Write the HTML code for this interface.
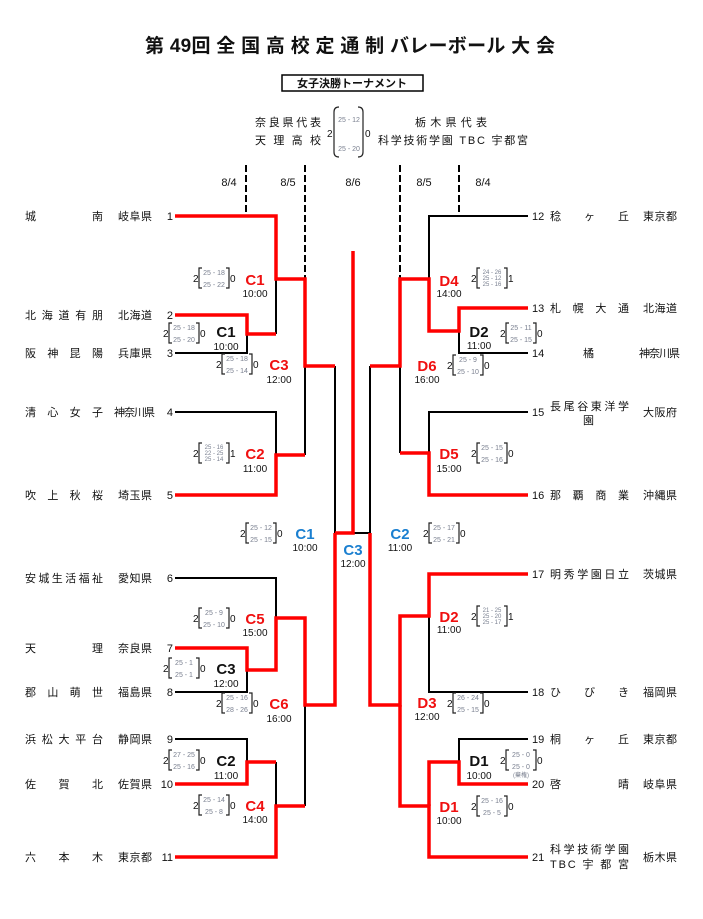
<!DOCTYPE html>
<html><head><meta charset="utf-8"><style>
html,body{margin:0;padding:0;background:#fff;}
svg{display:block;}
text{font-family:"Liberation Sans","Noto Sans CJK JP",sans-serif;fill:#111;}
.t{font-size:11px;}
.n{font-size:11px;}
.s{font-size:7px;fill:#7a8090;}
.s3{font-size:6px;fill:#7a8090;}
.d{font-size:11px;fill:#111;}
.lr{font-size:15px;font-weight:bold;fill:#f01010;}
.lb{font-size:15px;font-weight:bold;fill:#111;}
.lu{font-size:15px;font-weight:bold;fill:#1a7fd0;}
.tm{font-size:10px;fill:#111;}
.k{fill:none;stroke:#000;stroke-width:2;}
.r{fill:none;stroke:#f00;stroke-width:3.5;}
.br{fill:none;stroke:#222;stroke-width:1.2;}
.dash{stroke:#000;stroke-width:2;stroke-dasharray:7,3;}
</style></head><body>
<svg width="703" height="919" viewBox="0 0 703 919" xmlns="http://www.w3.org/2000/svg">
<!-- title -->
<text x="350" y="52" text-anchor="middle" style="font-size:19px;font-weight:bold" textLength="410" lengthAdjust="spacing">第 49回 全 国 高 校 定 通 制 バレーボール 大 会</text>
<rect x="282" y="75" width="141" height="16" fill="none" stroke="#000" stroke-width="1.5"/>
<text x="352" y="87" text-anchor="middle" style="font-size:11px;font-weight:bold">女子決勝トーナメント</text>
<!-- final -->
<text x="255" y="126" class="t" textLength="66" lengthAdjust="spacing">奈良県代表</text>
<text x="255" y="144" class="t" textLength="66" lengthAdjust="spacing">天理高校</text>
<text x="327" y="137" class="n" style="font-size:10px">2</text>
<path d="M339 107 q-5 0 -5 5 v40 q0 5 5 5" class="br"/>
<path d="M358 107 q5 0 5 5 v40 q0 5 -5 5" class="br"/>
<text x="349" y="122" text-anchor="middle" class="s">25 - 12</text>
<text x="349" y="151" text-anchor="middle" class="s">25 - 20</text>
<text x="365" y="137" class="n" style="font-size:10px">0</text>
<text x="415" y="126" class="t" textLength="72" lengthAdjust="spacing">栃木県代表</text>
<text x="378" y="144" class="t" textLength="150" lengthAdjust="spacing">科学技術学園 TBC 宇都宮</text>
<!-- dates -->
<text x="229" y="186" text-anchor="middle" class="d">8/4</text>
<text x="288" y="186" text-anchor="middle" class="d">8/5</text>
<text x="353" y="186" text-anchor="middle" class="d">8/6</text>
<text x="424" y="186" text-anchor="middle" class="d">8/5</text>
<text x="483" y="186" text-anchor="middle" class="d">8/4</text>
<line x1="246" y1="165" x2="246" y2="213" class="dash"/>
<line x1="305" y1="165" x2="305" y2="279" class="dash"/>
<line x1="400" y1="165" x2="400" y2="279" class="dash"/>
<line x1="459" y1="165" x2="459" y2="213" class="dash"/>

<!-- LEFT black lines -->
<path class="k" d="M276 279 V334 M175 353 H247 V334 M305 366 V455 M175 412 H276 V455 M335 366 V533 M175 578 H276 V618 M175 692 H247 V670 M305 705 V806 M175 739 H247 V761 M276 762 V806"/>
<!-- LEFT red -->
<path class="r" d="M175 216 H276 V279 H305 V366 H335"/>
<path class="r" d="M175 315 H247 V334 H276"/>
<path class="r" d="M175 495 H276 V455 H305"/>
<path class="r" d="M335 533 V705 H305 V618 H276 V670 H247 V648 H175"/>
<path class="r" d="M175 784 H247 V762 H276"/>
<path class="r" d="M175 857 H276 V806 H305"/>
<!-- center -->
<path class="k" d="M353 533 H370 V366"/>
<path class="r" d="M353 251 V533 H335"/>
<!-- RIGHT black -->
<path class="k" d="M528 216 H429 V279 M459 331 V353 H528 M400 366 V453 M528 412 H429 V453 M400 616 V705 M429 616 V692 H528 M528 739 H459 V762 M429 762 V806"/>
<!-- RIGHT red -->
<path class="r" d="M370 366 H400 V279 H429 V331 H459 V308 H528"/>
<path class="r" d="M400 453 H429 V495 H528"/>
<path class="r" d="M370 533 V705 H400 V616 H429 V574 H528"/>
<path class="r" d="M400 705 V806 H429 V857 H528"/>
<path class="r" d="M429 806 V762 H459 V784 H528"/>

<!-- LEFT teams -->
<g class="t">
<text x="25" y="220" textLength="78" lengthAdjust="spacing">城　　　　南</text>
<text x="118" y="220" textLength="34" lengthAdjust="spacing">岐阜県</text>
<text x="25" y="319" textLength="78" lengthAdjust="spacing">北海道有朋</text>
<text x="118" y="319" textLength="34" lengthAdjust="spacing">北海道</text>
<text x="25" y="357" textLength="78" lengthAdjust="spacing">阪神昆陽</text>
<text x="118" y="357" textLength="34" lengthAdjust="spacing">兵庫県</text>
<text x="25" y="416" textLength="78" lengthAdjust="spacing">清心女子</text>
<text x="114" y="416" textLength="41" lengthAdjust="spacing">神奈川県</text>
<text x="25" y="499" textLength="78" lengthAdjust="spacing">吹上秋桜</text>
<text x="118" y="499" textLength="34" lengthAdjust="spacing">埼玉県</text>
<text x="25" y="582" textLength="78" lengthAdjust="spacing">安城生活福祉</text>
<text x="118" y="582" textLength="34" lengthAdjust="spacing">愛知県</text>
<text x="25" y="652" textLength="78" lengthAdjust="spacing">天　　　　理</text>
<text x="118" y="652" textLength="34" lengthAdjust="spacing">奈良県</text>
<text x="25" y="696" textLength="78" lengthAdjust="spacing">郡山萌世</text>
<text x="118" y="696" textLength="34" lengthAdjust="spacing">福島県</text>
<text x="25" y="743" textLength="78" lengthAdjust="spacing">浜松大平台</text>
<text x="118" y="743" textLength="34" lengthAdjust="spacing">静岡県</text>
<text x="25" y="788" textLength="78" lengthAdjust="spacing">佐　賀　北</text>
<text x="118" y="788" textLength="34" lengthAdjust="spacing">佐賀県</text>
<text x="25" y="861" textLength="78" lengthAdjust="spacing">六　本　木</text>
<text x="118" y="861" textLength="34" lengthAdjust="spacing">東京都</text>
</g>
<g class="n" text-anchor="end">
<text x="173" y="220">1</text><text x="173" y="319">2</text><text x="173" y="357">3</text><text x="173" y="416">4</text><text x="173" y="499">5</text><text x="173" y="582">6</text><text x="173" y="652">7</text><text x="173" y="696">8</text><text x="173" y="743">9</text><text x="173" y="788">10</text><text x="173" y="861">11</text>
</g>
<!-- RIGHT teams -->
<g class="n">
<text x="532" y="220">12</text><text x="532" y="312">13</text><text x="532" y="357">14</text><text x="532" y="416">15</text><text x="532" y="499">16</text><text x="532" y="578">17</text><text x="532" y="696">18</text><text x="532" y="743">19</text><text x="532" y="788">20</text><text x="532" y="861">21</text>
</g>
<g class="t">
<text x="550" y="220" textLength="79" lengthAdjust="spacing">稔　　ヶ　　丘</text>
<text x="643" y="220" textLength="34" lengthAdjust="spacing">東京都</text>
<text x="550" y="312" textLength="79" lengthAdjust="spacing">札幌大通</text>
<text x="643" y="312" textLength="34" lengthAdjust="spacing">北海道</text>
<text x="583" y="357">橘</text>
<text x="639" y="357" textLength="41" lengthAdjust="spacing">神奈川県</text>
<text x="550" y="410" textLength="79" lengthAdjust="spacing">長尾谷東洋学</text>
<text x="583" y="424">園</text>
<text x="643" y="416" textLength="34" lengthAdjust="spacing">大阪府</text>
<text x="550" y="499" textLength="79" lengthAdjust="spacing">那覇商業</text>
<text x="643" y="499" textLength="34" lengthAdjust="spacing">沖縄県</text>
<text x="550" y="578" textLength="79" lengthAdjust="spacing">明秀学園日立</text>
<text x="643" y="578" textLength="34" lengthAdjust="spacing">茨城県</text>
<text x="550" y="696" textLength="79" lengthAdjust="spacing">ひ　　び　　き</text>
<text x="643" y="696" textLength="34" lengthAdjust="spacing">福岡県</text>
<text x="550" y="743" textLength="79" lengthAdjust="spacing">桐　　ヶ　　丘</text>
<text x="643" y="743" textLength="34" lengthAdjust="spacing">東京都</text>
<text x="550" y="788" textLength="79" lengthAdjust="spacing">啓　　　　　晴</text>
<text x="643" y="788" textLength="34" lengthAdjust="spacing">岐阜県</text>
<text x="550" y="853" textLength="79" lengthAdjust="spacing">科学技術学園</text>
<text x="550" y="868" textLength="79" lengthAdjust="spacing">TBC 宇 都 宮</text>
<text x="643" y="861" textLength="34" lengthAdjust="spacing">栃木県</text>
</g>

<!-- match labels -->
<g text-anchor="middle">
<text x="255" y="285" class="lr">C1</text><text x="255" y="297" class="tm">10:00</text>
<text x="226" y="337" class="lb">C1</text><text x="226" y="350" class="tm">10:00</text>
<text x="279" y="370" class="lr">C3</text><text x="279" y="383" class="tm">12:00</text>
<text x="255" y="459" class="lr">C2</text><text x="255" y="472" class="tm">11:00</text>
<text x="305" y="539" class="lu">C1</text><text x="305" y="551" class="tm">10:00</text>
<text x="353" y="555" class="lu">C3</text><text x="353" y="567" class="tm">12:00</text>
<text x="400" y="539" class="lu">C2</text><text x="400" y="551" class="tm">11:00</text>
<text x="255" y="624" class="lr">C5</text><text x="255" y="636" class="tm">15:00</text>
<text x="226" y="674" class="lb">C3</text><text x="226" y="687" class="tm">12:00</text>
<text x="279" y="709" class="lr">C6</text><text x="279" y="722" class="tm">16:00</text>
<text x="226" y="766" class="lb">C2</text><text x="226" y="779" class="tm">11:00</text>
<text x="255" y="811" class="lr">C4</text><text x="255" y="823" class="tm">14:00</text>
<text x="449" y="286" class="lr">D4</text><text x="449" y="297" class="tm">14:00</text>
<text x="479" y="337" class="lb">D2</text><text x="479" y="349" class="tm">11:00</text>
<text x="427" y="371" class="lr">D6</text><text x="427" y="383" class="tm">16:00</text>
<text x="449" y="459" class="lr">D5</text><text x="449" y="472" class="tm">15:00</text>
<text x="449" y="622" class="lr">D2</text><text x="449" y="633" class="tm">11:00</text>
<text x="427" y="708" class="lr">D3</text><text x="427" y="720" class="tm">12:00</text>
<text x="479" y="766" class="lb">D1</text><text x="479" y="779" class="tm">10:00</text>
<text x="449" y="812" class="lr">D1</text><text x="449" y="824" class="tm">10:00</text>
</g>

<!-- score blocks: 2 scores -->
<g id="sc">
<g transform="translate(193,278)"><text x="0" y="4" class="n" style="font-size:10px">2</text><path class="br" d="M9 -10 h-3 v20 h3 M33 -10 h3 v20 h-3"/><text x="21" y="-3" text-anchor="middle" class="s">25 - 18</text><text x="21" y="9" text-anchor="middle" class="s">25 - 22</text><text x="37" y="4" class="n" style="font-size:10px">0</text></g>
<g transform="translate(163,333)"><text x="0" y="4" class="n" style="font-size:10px">2</text><path class="br" d="M9 -10 h-3 v20 h3 M33 -10 h3 v20 h-3"/><text x="21" y="-3" text-anchor="middle" class="s">25 - 18</text><text x="21" y="9" text-anchor="middle" class="s">25 - 20</text><text x="37" y="4" class="n" style="font-size:10px">0</text></g>
<g transform="translate(216,364)"><text x="0" y="4" class="n" style="font-size:10px">2</text><path class="br" d="M9 -10 h-3 v20 h3 M33 -10 h3 v20 h-3"/><text x="21" y="-3" text-anchor="middle" class="s">25 - 18</text><text x="21" y="9" text-anchor="middle" class="s">25 - 14</text><text x="37" y="4" class="n" style="font-size:10px">0</text></g>
<g transform="translate(240,533)"><text x="0" y="4" class="n" style="font-size:10px">2</text><path class="br" d="M9 -10 h-3 v20 h3 M33 -10 h3 v20 h-3"/><text x="21" y="-3" text-anchor="middle" class="s">25 - 12</text><text x="21" y="9" text-anchor="middle" class="s">25 - 15</text><text x="37" y="4" class="n" style="font-size:10px">0</text></g>
<g transform="translate(193,618)"><text x="0" y="4" class="n" style="font-size:10px">2</text><path class="br" d="M9 -10 h-3 v20 h3 M33 -10 h3 v20 h-3"/><text x="21" y="-3" text-anchor="middle" class="s">25 - 9</text><text x="21" y="9" text-anchor="middle" class="s">25 - 10</text><text x="37" y="4" class="n" style="font-size:10px">0</text></g>
<g transform="translate(163,668)"><text x="0" y="4" class="n" style="font-size:10px">2</text><path class="br" d="M9 -10 h-3 v20 h3 M33 -10 h3 v20 h-3"/><text x="21" y="-3" text-anchor="middle" class="s">25 - 1</text><text x="21" y="9" text-anchor="middle" class="s">25 - 1</text><text x="37" y="4" class="n" style="font-size:10px">0</text></g>
<g transform="translate(216,703)"><text x="0" y="4" class="n" style="font-size:10px">2</text><path class="br" d="M9 -10 h-3 v20 h3 M33 -10 h3 v20 h-3"/><text x="21" y="-3" text-anchor="middle" class="s">25 - 16</text><text x="21" y="9" text-anchor="middle" class="s">28 - 26</text><text x="37" y="4" class="n" style="font-size:10px">0</text></g>
<g transform="translate(163,760)"><text x="0" y="4" class="n" style="font-size:10px">2</text><path class="br" d="M9 -10 h-3 v20 h3 M33 -10 h3 v20 h-3"/><text x="21" y="-3" text-anchor="middle" class="s">27 - 25</text><text x="21" y="9" text-anchor="middle" class="s">25 - 16</text><text x="37" y="4" class="n" style="font-size:10px">0</text></g>
<g transform="translate(193,805)"><text x="0" y="4" class="n" style="font-size:10px">2</text><path class="br" d="M9 -10 h-3 v20 h3 M33 -10 h3 v20 h-3"/><text x="21" y="-3" text-anchor="middle" class="s">25 - 14</text><text x="21" y="9" text-anchor="middle" class="s">25 - 8</text><text x="37" y="4" class="n" style="font-size:10px">0</text></g>
<g transform="translate(500,333)"><text x="0" y="4" class="n" style="font-size:10px">2</text><path class="br" d="M9 -10 h-3 v20 h3 M33 -10 h3 v20 h-3"/><text x="21" y="-3" text-anchor="middle" class="s">25 - 11</text><text x="21" y="9" text-anchor="middle" class="s">25 - 15</text><text x="37" y="4" class="n" style="font-size:10px">0</text></g>
<g transform="translate(447,365)"><text x="0" y="4" class="n" style="font-size:10px">2</text><path class="br" d="M9 -10 h-3 v20 h3 M33 -10 h3 v20 h-3"/><text x="21" y="-3" text-anchor="middle" class="s">25 - 9</text><text x="21" y="9" text-anchor="middle" class="s">25 - 10</text><text x="37" y="4" class="n" style="font-size:10px">0</text></g>
<g transform="translate(471,453)"><text x="0" y="4" class="n" style="font-size:10px">2</text><path class="br" d="M9 -10 h-3 v20 h3 M33 -10 h3 v20 h-3"/><text x="21" y="-3" text-anchor="middle" class="s">25 - 15</text><text x="21" y="9" text-anchor="middle" class="s">25 - 16</text><text x="37" y="4" class="n" style="font-size:10px">0</text></g>
<g transform="translate(423,533)"><text x="0" y="4" class="n" style="font-size:10px">2</text><path class="br" d="M9 -10 h-3 v20 h3 M33 -10 h3 v20 h-3"/><text x="21" y="-3" text-anchor="middle" class="s">25 - 17</text><text x="21" y="9" text-anchor="middle" class="s">25 - 21</text><text x="37" y="4" class="n" style="font-size:10px">0</text></g>
<g transform="translate(447,703)"><text x="0" y="4" class="n" style="font-size:10px">2</text><path class="br" d="M9 -10 h-3 v20 h3 M33 -10 h3 v20 h-3"/><text x="21" y="-3" text-anchor="middle" class="s">26 - 24</text><text x="21" y="9" text-anchor="middle" class="s">25 - 15</text><text x="37" y="4" class="n" style="font-size:10px">0</text></g>
<g transform="translate(500,760)"><text x="0" y="4" class="n" style="font-size:10px">2</text><path class="br" d="M9 -10 h-3 v20 h3 M33 -10 h3 v20 h-3"/><text x="21" y="-3" text-anchor="middle" class="s">25 - 0</text><text x="21" y="9" text-anchor="middle" class="s">25 - 0</text><text x="37" y="4" class="n" style="font-size:10px">0</text><text x="21" y="17" text-anchor="middle" class="s" style="font-size:6px">(棄権)</text></g>
<g transform="translate(471,806)"><text x="0" y="4" class="n" style="font-size:10px">2</text><path class="br" d="M9 -10 h-3 v20 h3 M33 -10 h3 v20 h-3"/><text x="21" y="-3" text-anchor="middle" class="s">25 - 16</text><text x="21" y="9" text-anchor="middle" class="s">25 - 5</text><text x="37" y="4" class="n" style="font-size:10px">0</text></g>
<!-- 3 scores -->
<g transform="translate(193,453)"><text x="0" y="4" class="n" style="font-size:10px">2</text><path class="br" d="M9 -10 h-3 v20 h3 M33 -10 h3 v20 h-3"/><text x="21" y="-4" text-anchor="middle" class="s3">25 - 16</text><text x="21" y="2" text-anchor="middle" class="s3">22 - 25</text><text x="21" y="8" text-anchor="middle" class="s3">25 - 14</text><text x="37" y="4" class="n" style="font-size:10px">1</text></g>
<g transform="translate(471,278)"><text x="0" y="4" class="n" style="font-size:10px">2</text><path class="br" d="M9 -10 h-3 v20 h3 M33 -10 h3 v20 h-3"/><text x="21" y="-4" text-anchor="middle" class="s3">24 - 26</text><text x="21" y="2" text-anchor="middle" class="s3">25 - 12</text><text x="21" y="8" text-anchor="middle" class="s3">25 - 16</text><text x="37" y="4" class="n" style="font-size:10px">1</text></g>
<g transform="translate(471,616)"><text x="0" y="4" class="n" style="font-size:10px">2</text><path class="br" d="M9 -10 h-3 v20 h3 M33 -10 h3 v20 h-3"/><text x="21" y="-4" text-anchor="middle" class="s3">21 - 25</text><text x="21" y="2" text-anchor="middle" class="s3">25 - 20</text><text x="21" y="8" text-anchor="middle" class="s3">25 - 17</text><text x="37" y="4" class="n" style="font-size:10px">1</text></g>
</g>
</svg>
</body></html>
